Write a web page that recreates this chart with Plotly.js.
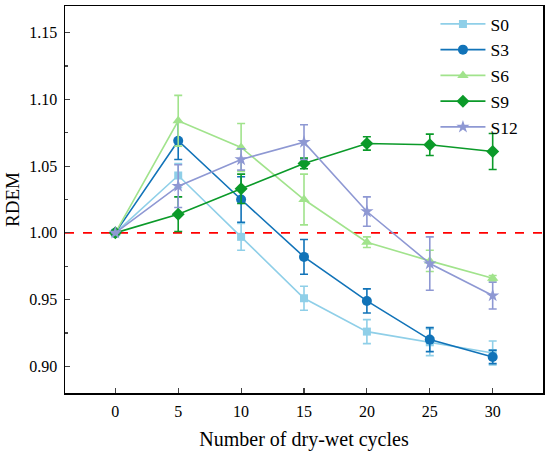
<!DOCTYPE html>
<html>
<head>
<meta charset="utf-8">
<script src="https://cdn.plot.ly/plotly-3.0.1.min.js"></script>
<style>html,body{margin:0;padding:0;background:#fff;}#chart{width:550px;height:455px;}</style>
</head>
<body>
<div id="chart"></div>
<script>
const cycles = [0, 5, 10, 15, 20, 25, 30];
const seriesNames = ['S0', 'S3', 'S6', 'S9', 'S12'];
const S0 = [1.000, 1.043, 0.997, 0.951, 0.926, 0.918, 0.910];
const S0err = [0, 0.009, 0.010, 0.009, 0.009, 0.010, 0.009];
const S3 = [1.000, 1.069, 1.025, 0.982, 0.949, 0.920, 0.907];
const S3err = [0, 0.014, 0.017, 0.013, 0.009, 0.009, 0.005];
const S6 = [1.000, 1.084, 1.064, 1.025, 0.993, 0.979, 0.966];
const S6err = [0, 0.019, 0.018, 0.019, 0.004, 0.008, 0.002];
const S9 = [1.000, 1.014, 1.033, 1.052, 1.067, 1.066, 1.061];
const S9err = [0, 0.013, 0.011, 0.004, 0.005, 0.008, 0.0135];
const S12 = [1.000, 1.035, 1.055, 1.068, 1.016, 0.977, 0.953];
const S12err = [0, 0.016, 0.008, 0.013, 0.011, 0.020, 0.010];
const yTickVals = [0.90, 0.95, 1.00, 1.05, 1.10, 1.15];
const refLine = 1.00;

const colors = ['#8fcfe8', '#1173b8', '#a1e38c', '#0b9a29', '#8e98d3'];
const symbols = ['square', 'circle', 'triangle-up', 'diamond', 'star'];
const sizes = [8, 10, 10, 10, 10];
const values = [S0, S3, S6, S9, S12];
const errs = [S0err, S3err, S6err, S9err, S12err];

const traces = seriesNames.map((n, i) => ({
  x: cycles, y: values[i], name: n, type: 'scatter', mode: 'lines+markers',
  line: {color: colors[i], width: 1.6},
  marker: {color: colors[i], symbol: symbols[i], size: sizes[i]},
  error_y: {type: 'data', array: errs[i], visible: true, color: colors[i], thickness: 1.6, width: 4}
}));

const font = 'Liberation Serif';
const layout = {
  width: 550, height: 455,
  margin: {l: 65, r: 7, t: 6, b: 62},
  paper_bgcolor: '#fff', plot_bgcolor: '#fff',
  font: {family: font, color: '#000', size: 16},
  showlegend: true,
  legend: {x: 0.775, y: 1.0, xanchor: 'left', yanchor: 'top', bgcolor: 'rgba(0,0,0,0)',
           itemwidth: 45, font: {family: font, size: 17.5, color: '#000'}, tracegroupgap: 0},
  xaxis: {range: [-4, 34], tickmode: 'array', tickvals: cycles, ticktext: cycles.map(String),
          ticks: 'inside', ticklen: 5, tickwidth: 1.2, ticklabelstandoff: 3,
          showline: true, linecolor: '#000', linewidth: 1.5, mirror: true, showgrid: false, zeroline: false,
          tickfont: {family: font, size: 16, color: '#000'},
          title: {text: 'Number of dry-wet cycles', font: {family: font, size: 20}, standoff: 13}},
  yaxis: {range: [0.88, 1.17], tickmode: 'array', tickvals: yTickVals, ticktext: yTickVals.map(v => v.toFixed(2)),
          ticks: 'inside', ticklen: 5, tickwidth: 1.2, ticklabelstandoff: 3,
          minor: {ticks: 'inside', ticklen: 3, dtick: 0.025, tick0: 0.9, showgrid: false},
          showline: true, linecolor: '#000', linewidth: 1.5, mirror: true, showgrid: false, zeroline: false,
          tickfont: {family: font, size: 16, color: '#000'},
          title: {text: 'RDEM', font: {family: font, size: 19}, standoff: 4}},
  shapes: [{type: 'line', xref: 'paper', x0: 0, x1: 1, yref: 'y', y0: refLine, y1: refLine,
            line: {color: '#ff0000', width: 1.8, dash: 'dash'}, layer: 'below'}]
};

Plotly.newPlot('chart', traces, layout, {displayModeBar: false, staticPlot: true});
</script>
</body>
</html>
